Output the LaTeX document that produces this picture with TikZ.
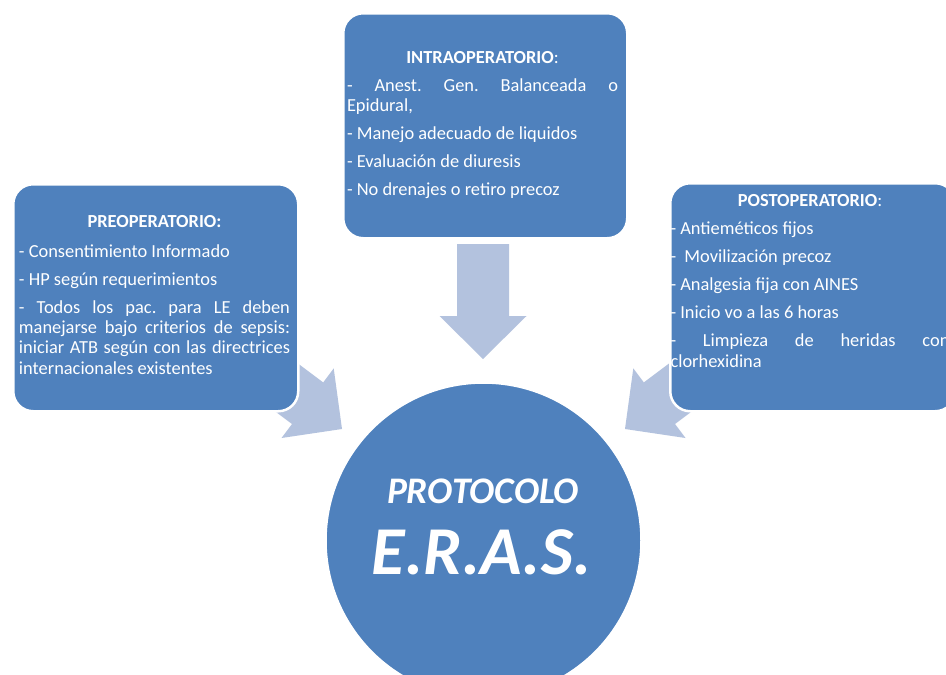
\documentclass[tikz,border=0pt]{standalone}
\usepackage{fontspec}
\setmainfont{Carlito}
\definecolor{boxblue}{RGB}{79,129,189}
\definecolor{arrowblue}{RGB}{179,194,222}
\begin{document}
\begin{tikzpicture}[x=1pt,y=-1pt,
  panel/.style={draw=white, line width=2.5pt, fill=boxblue, rounded corners=20pt, inner sep=0pt, anchor=north west},
  blockarrow/.style={fill=arrowblue, draw=none},
  txt/.style={anchor=base west, inner sep=0pt, outer sep=0pt, text width=#1, align=justify, text=white,
    font=\fontsize{18.4}{20.3}\selectfont},
  bigtxt/.style={anchor=base, inner sep=0pt, text=white, font=\fontsize{#1}{#1}\selectfont\bfseries\itshape},
]
\useasboundingbox (0,0) rectangle (946,675);
\clip (0,0) rectangle (946,675);
\fill[white] (0,0) rectangle (946,675);

% block arrows (drawn first, partly covered by the panels)
\fill[blockarrow] (457,244) -- (509,244) -- (509,316) -- (526.5,316) -- (483,359)
  -- (439.5,316) -- (457,316) -- cycle;
\fill[blockarrow] (265.6,339.2) -- (323.2,382.4) -- (333.7,368.4) -- (342,429)
  -- (281.5,438) -- (292,424) -- (234.4,380.8) -- cycle;
\fill[blockarrow] (701.4,339.2) -- (643.8,382.4) -- (633.3,368.4) -- (625,429)
  -- (685.5,438) -- (675,424) -- (732.6,380.8) -- cycle;

% panels
\node[panel, minimum width=285pt, minimum height=227pt] (pre) at (12,183) {};
\node[panel, minimum width=284pt, minimum height=225pt] (intra) at (342,12) {};
\node[panel, minimum width=285pt, minimum height=228pt] (post) at (669,182) {};

% panel texts
\node[txt=271pt] (pretext) at (19,227.7) {\frenchspacing\hyphenpenalty=10000\tolerance=9999\parskip=7.7pt\parindent=0pt%
{\centering\bfseries PREOPERATORIO:\par}\vspace{1.6pt}%
- Consentimiento Informado\par
- HP según requerimientos\par
- Todos los pac. para LE deben\linebreak manejarse bajo criterios de sepsis:\linebreak iniciar ATB según con las directrices\linebreak internacionales existentes\par};

\node[txt=271pt] (intratext) at (347,63.3) {\frenchspacing\hyphenpenalty=10000\tolerance=9999\parskip=7.7pt\parindent=0pt%
{\centering\textbf{INTRAOPERATORIO}:\par}%
- Anest. Gen. Balanceada o\linebreak Epidural,\par
- Manejo adecuado de liquidos\par
- Evaluación de diuresis\par
- No drenajes o retiro precoz\par};

\node[txt=279pt] (posttext) at (670.5,206.7) {\frenchspacing\hyphenpenalty=10000\tolerance=9999\parskip=7.7pt\parindent=0pt%
{\centering\textbf{POSTOPERATORIO}:\par}%
- Antieméticos fijos\par
-\ \ Movilización precoz\par
- Analgesia fija con AINES\par
- Inicio vo a las 6 horas\par
- Limpieza de heridas con\linebreak clorhexidina\par};

% central circle
\node[circle, fill=boxblue, draw=white, line width=1.5pt, minimum size=315pt, inner sep=0pt] (eras) at (483.5,540.5) {};
\node[bigtxt=37.5] (protocolo) at (483,503) {PROTOCOLO};
\node[bigtxt=68.5] (acronym) at (481.5,574) {E.R.A.S.};
\end{tikzpicture}
\end{document}
